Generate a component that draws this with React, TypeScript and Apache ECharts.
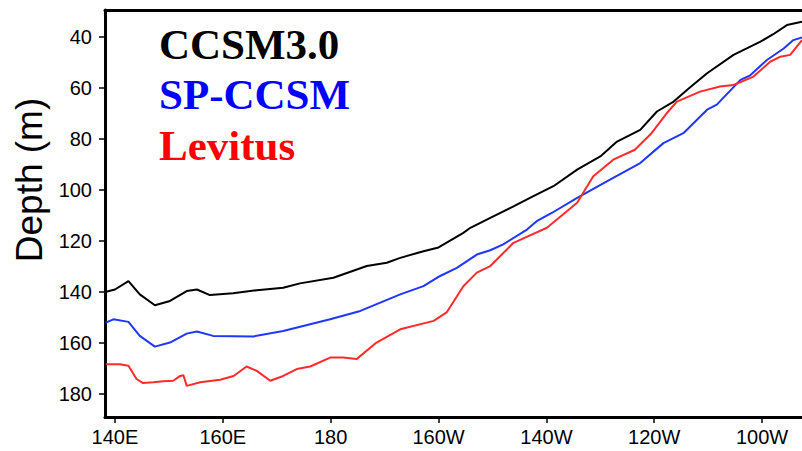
import React, { useEffect, useRef } from "react";
import * as echarts from "echarts";

// Longitude in degrees east (180 = dateline, 200 = 160W ...), depth in m
const ccsmLon = [138.2, 140, 142.5, 144.6, 147.4, 150.2, 153.3, 155.2, 157.6, 161.9, 166.3, 171.2, 174.3, 180.5, 186.7, 190.4, 192.9, 197.2, 200, 204.6, 205.9, 209.6, 213.9, 217.5, 221.3, 225.7, 230, 233.1, 237.4, 240.5, 243.6, 246.5, 249.8, 254.7, 259.7, 262, 264.6, 267.4];
const ccsmDepth = [140, 139, 135.7, 140.9, 145.2, 143.5, 139.6, 139, 141.2, 140.5, 139.3, 138.3, 136.6, 134.4, 129.8, 128.5, 126.6, 124, 122.5, 116.8, 114.8, 110.9, 106.4, 102.5, 98.5, 92, 86.8, 81, 76.4, 69.2, 65.3, 60, 54.2, 47, 41.8, 39, 35.3, 34];

const spLon = [138.3, 139.7, 142.5, 144.6, 147.4, 150.2, 153.3, 155.2, 158.2, 165.7, 171.2, 179.9, 185.5, 192.9, 197.2, 200.3, 203.4, 207.1, 209.6, 212, 216.4, 218.2, 221, 225.7, 231.8, 237.4, 241.7, 245.4, 249.8, 251.6, 256, 257.8, 260.9, 264, 265.8, 267.4];
const spDepth = [152, 150.7, 151.7, 157.2, 161.4, 159.8, 156.3, 155.5, 157.2, 157.4, 155.3, 150.7, 147.4, 140.9, 137.7, 133.7, 130.5, 125.3, 123.6, 121.3, 115.5, 112.2, 109, 103.1, 95.9, 89.4, 81.6, 77.7, 68.5, 66.5, 56.8, 55, 49, 44.5, 41.2, 40.2];

const levLon = [138.3, 140.9, 142.5, 144, 145.2, 147.1, 149, 150.8, 152.1, 152.7, 153.3, 155.8, 159.5, 162, 164.4, 166.3, 168.8, 171.2, 173.7, 176.2, 179.9, 182.3, 184.8, 188.5, 192.9, 199.1, 201.5, 204.6, 207.1, 209.6, 213.9, 220.1, 225.7, 228.7, 232.4, 236.4, 239.5, 242.3, 244.2, 248.5, 252.2, 254.7, 258.4, 261.5, 263.4, 265.2, 267.4];
const levDepth = [168.3, 168.3, 168.9, 174.1, 175.7, 175.4, 175, 174.8, 172.9, 172.6, 176.8, 175.4, 174.4, 172.9, 169.2, 170.9, 174.8, 172.9, 170.2, 169.2, 165.7, 165.7, 166.3, 159.8, 154.6, 151.3, 148, 137.7, 132.4, 129.8, 120.7, 114.8, 105, 94.6, 88.1, 84.2, 77.7, 69.9, 65.3, 61.4, 59.4, 58.8, 55.5, 49.7, 47.7, 47, 41.2];

const xTicks = [140, 160, 180, 200, 220, 240, 260];
const xTickLabels = ["140E", "160E", "180", "160W", "140W", "120W", "100W"];
const yTicks = [40, 60, 80, 100, 120, 140, 160, 180];

const legendNames = ["CCSM3.0", "SP-CCSM", "Levitus"];
const colors = ["#000000", "#1f36ff", "#ff2b2b"];

const pairs = (xs: number[], ys: number[]) => xs.map((x, i) => [x, ys[i]]);

export default function App() {
  const ref = useRef<HTMLDivElement>(null);
  useEffect(() => {
    if (!ref.current) return;
    const chart = echarts.init(ref.current, null, { renderer: "svg" });
    const xMin = 138.15;
    const xMax = 267.4;
    const labelFont = { fontFamily: "Liberation Sans", fontSize: 20, color: "#000" };
    const series = [
      { name: legendNames[0], data: pairs(ccsmLon, ccsmDepth), color: colors[0] },
      { name: legendNames[1], data: pairs(spLon, spDepth), color: colors[1] },
      { name: legendNames[2], data: pairs(levLon, levDepth), color: colors[2] },
    ].map((s) => ({
      type: "line",
      name: s.name,
      data: s.data,
      showSymbol: false,
      symbol: "none",
      lineStyle: { color: s.color, width: 2 },
      itemStyle: { color: s.color },
      xAxisIndex: 0,
      yAxisIndex: 0,
    }));
    chart.setOption({
      animation: false,
      backgroundColor: "#ffffff",
      grid: { left: 105, right: 0, top: 10, bottom: 34, containLabel: false },
      xAxis: [
        {
          type: "value",
          min: xMin,
          max: xMax,
          position: "bottom",
          axisLine: { show: true, lineStyle: { color: "#000", width: 3 } },
          axisTick: { show: true, length: 6, customValues: xTicks, lineStyle: { color: "#000", width: 1.5 } },
          axisLabel: {
            ...labelFont,
            margin: 10,
            customValues: xTicks,
            formatter: (v: number) => {
              const i = xTicks.indexOf(Math.round(v));
              return i >= 0 ? xTickLabels[i] : "";
            },
          },
          splitLine: { show: false },
        },
        {
          type: "value",
          min: xMin,
          max: xMax,
          position: "top",
          axisLine: { show: true, onZero: false, lineStyle: { color: "#000", width: 3 } },
          axisTick: { show: false },
          axisLabel: { show: false },
          splitLine: { show: false },
        },
      ],
      yAxis: {
        type: "value",
        inverse: true,
        min: 29.4,
        max: 189.0,
        axisLine: { show: true, onZero: false, lineStyle: { color: "#000", width: 3 } },
        axisTick: { show: true, length: 6, customValues: yTicks, lineStyle: { color: "#000", width: 1.5 } },
        axisLabel: { ...labelFont, margin: 13, customValues: yTicks },
        splitLine: { show: false },
      },
      graphic: [
        {
          type: "text",
          x: 29,
          y: 180,
          rotation: Math.PI / 2,
          style: {
            text: "Depth (m)",
            fontFamily: "Liberation Sans",
            fontSize: 37,
            fill: "#000",
            align: "center",
            verticalAlign: "middle",
          },
        },
        ...legendNames.map((n, i) => ({
          type: "text",
          x: 159,
          y: 44 + i * 50.5,
          style: {
            text: n,
            fontFamily: "Liberation Serif",
            fontWeight: "bold",
            fontSize: 43,
            fill: colors[i] === "#1f36ff" ? "#0000ff" : colors[i] === "#ff2b2b" ? "#ff0000" : "#000",
            align: "left",
            verticalAlign: "middle",
          },
        })),
      ],
      series,
    });
    return () => chart.dispose();
  }, []);
  return (
    <div
      ref={ref}
      style={{ position: "absolute", left: 0, top: 0, width: 802, height: 451, background: "#fff" }}
    />
  );
}
